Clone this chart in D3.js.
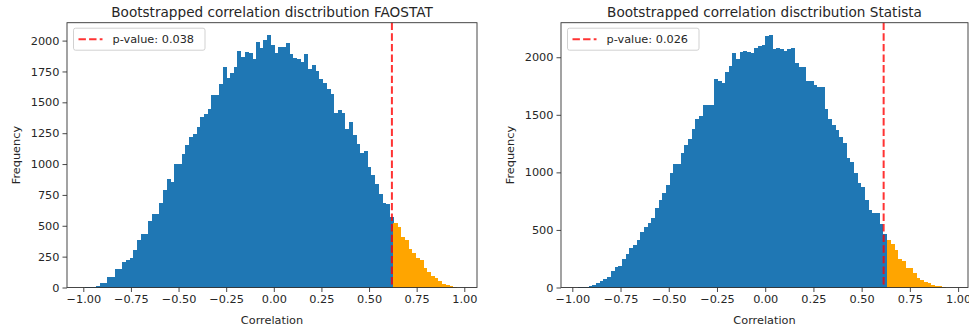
<!DOCTYPE html>
<html>
<head>
<meta charset="utf-8">
<script src="https://cdn.jsdelivr.net/npm/d3@7"></script>
<style>
  html, body { margin: 0; padding: 0; background: #fff; }
  svg { display: block; font-family: "DejaVu Sans", sans-serif; }
</style>
</head>
<body>
<svg id="chart" width="969" height="332"></svg>
<script>
// ---------- DATA ----------
const titles = ["Bootstrapped correlation disctribution FAOSTAT", "Bootstrapped correlation disctribution Statista"];
const xLabel = "Correlation";
const yLabel = "Frequency";
const xTicks = [-1.00, -0.75, -0.50, -0.25, 0.00, 0.25, 0.50, 0.75, 1.00];
const yTicksFao = [0, 250, 500, 750, 1000, 1250, 1500, 1750, 2000];
const yTicksStatista = [0, 500, 1000, 1500, 2000];
const legendLabels = ["p-value: 0.038", "p-value: 0.026"];
const observed = [0.620, 0.614];
const binStart = [-0.991, -0.972];
const binWidth = [0.01951, 0.01908];

const countsFao = [
  3, 6, 8, 10, 35, 40, 86, 86, 146, 146,
  208, 221, 235, 302, 383, 432, 432, 537, 592, 592,
  681, 786, 876, 857, 998, 998, 1079, 1154, 1221, 1241,
  1302, 1383, 1403, 1444, 1560, 1560, 1649, 1789, 1695, 1736,
  1789, 1917, 1870, 1906, 1898, 1849, 1992, 1938, 2006, 2046,
  1965, 1898, 1946, 1946, 1984, 1890, 1857, 1849, 1830, 1890,
  1768, 1803, 1757, 1687, 1659, 1606, 1568, 1411, 1438, 1411,
  1281, 1343, 1235, 1162, 1087, 1105, 978, 911, 838, 757,
  686, 676, 573, 519, 487, 410, 384, 313, 281, 243,
  221, 154, 122, 92, 73, 54, 32, 24, 16, 5
];
const countsStatista = [
  3, 5, 8, 12, 20, 38, 55, 73, 95, 139,
  182, 191, 246, 290, 347, 370, 414, 486, 524, 559,
  602, 689, 761, 825, 891, 993, 1074, 1074, 1172, 1239,
  1291, 1375, 1462, 1493, 1586, 1586, 1586, 1809, 1794, 1774,
  1870, 1927, 2035, 1983, 2043, 2057, 2049, 2035, 2083, 2098,
  2107, 2185, 2193, 2069, 2078, 2069, 2057, 2069, 2078, 1948,
  1918, 1918, 1797, 1797, 1759, 1739, 1739, 1548, 1462, 1412,
  1369, 1311, 1259, 1123, 1094, 993, 906, 877, 761, 674,
  646, 646, 553, 466, 414, 379, 327, 246, 234, 168,
  168, 125, 82, 67, 45, 35, 20, 15, 10, 6
];

// ---------- LAYOUT ----------
const panels = [
  { counts: countsFao, yTicks: yTicksFao, xDomain: [-1.0856, 1.0667], xRange: [67, 477], yDomain: [0, 2145], yRange: [287.5, 22.7] },
  { counts: countsStatista, yTicks: yTicksStatista, xDomain: [-1.0586, 1.0513], xRange: [561, 968], yDomain: [0, 2300], yRange: [287.5, 22.7] }
];

const svg = d3.select("#chart");
const BLUE = "#1f77b4", ORANGE = "#ffa500", TXT = "#262626";
const fmt = d3.format(".2f");

panels.forEach((p, k) => {
  const x = d3.scaleLinear().domain(p.xDomain).range(p.xRange);
  const y = d3.scaleLinear().domain(p.yDomain).range(p.yRange);
  const g = svg.append("g");

  const bins = p.counts.map((c, i) => ({
    x0: binStart[k] + i * binWidth[k],
    x1: binStart[k] + (i + 1) * binWidth[k],
    c
  }));

  g.selectAll("rect.bar").data(bins).enter().append("rect")
    .attr("class", "bar")
    .attr("x", d => x(d.x0))
    .attr("width", d => x(d.x1) - x(d.x0) + 0.3)
    .attr("y", d => y(d.c))
    .attr("height", d => y(0) - y(d.c))
    .attr("fill", d => d.x0 >= observed[k] ? ORANGE : BLUE)
    .attr("shape-rendering", "crispEdges");

  // observed line
  g.append("line")
    .attr("x1", x(observed[k])).attr("x2", x(observed[k]))
    .attr("y1", p.yRange[1]).attr("y2", p.yRange[0])
    .attr("stroke", "red").attr("stroke-opacity", 0.8)
    .attr("stroke-width", 2).attr("stroke-dasharray", "7.4,3.2");

  // axes
  const xAxis = d3.axisBottom(x).tickValues(xTicks).tickFormat(v => fmt(v).replace("-", "\u2212")).tickSize(4.5).tickPadding(3);
  const gx = g.append("g").attr("transform", `translate(0,${p.yRange[0]})`).call(xAxis);
  const yAxis = d3.axisLeft(y).tickValues(p.yTicks).tickFormat(d3.format("d")).tickSize(4.5).tickPadding(3);
  const gy = g.append("g").attr("transform", `translate(${p.xRange[0]},0)`).call(yAxis);
  [gx, gy].forEach(a => {
    a.select(".domain").remove();
    a.selectAll("line").attr("stroke", "#333").attr("stroke-width", 0.9);
    a.selectAll("text").attr("fill", TXT).style("font-size", "11.3px").style("font-family", "DejaVu Sans, sans-serif");
  });

  // frame
  g.append("rect")
    .attr("x", p.xRange[0]).attr("y", p.yRange[1])
    .attr("width", p.xRange[1] - p.xRange[0]).attr("height", p.yRange[0] - p.yRange[1])
    .attr("fill", "none").attr("stroke", "#333").attr("stroke-width", 0.9);

  // titles & labels
  const cx = (p.xRange[0] + p.xRange[1]) / 2;
  g.append("text").attr("x", cx).attr("y", 17).attr("text-anchor", "middle")
    .attr("fill", TXT).style("font-size", "13.6px").text(titles[k]);
  g.append("text").attr("x", cx).attr("y", 324).attr("text-anchor", "middle")
    .attr("fill", TXT).style("font-size", "11.3px").text(xLabel);
  g.append("text").attr("transform", `translate(${p.xRange[0] - 47},${(p.yRange[0] + p.yRange[1]) / 2}) rotate(-90)`)
    .attr("text-anchor", "middle").attr("fill", TXT).style("font-size", "11.3px").text(yLabel);

  // legend
  const lx = p.xRange[0] + 6.5, ly = p.yRange[1] + 5.5;
  const lg = g.append("g");
  lg.append("rect").attr("x", lx).attr("y", ly).attr("width", 131.5).attr("height", 22)
    .attr("rx", 2).attr("fill", "#fff").attr("fill-opacity", 0.8).attr("stroke", "#ccc").attr("stroke-width", 0.9);
  lg.append("line").attr("x1", lx + 5).attr("x2", lx + 29).attr("y1", ly + 11).attr("y2", ly + 11)
    .attr("stroke", "red").attr("stroke-opacity", 0.8).attr("stroke-width", 2).attr("stroke-dasharray", "7.4,3.2");
  lg.append("text").attr("x", lx + 39).attr("y", ly + 15).attr("fill", TXT)
    .style("font-size", "11.3px").text(legendLabels[k]);
});
</script>
</body>
</html>
